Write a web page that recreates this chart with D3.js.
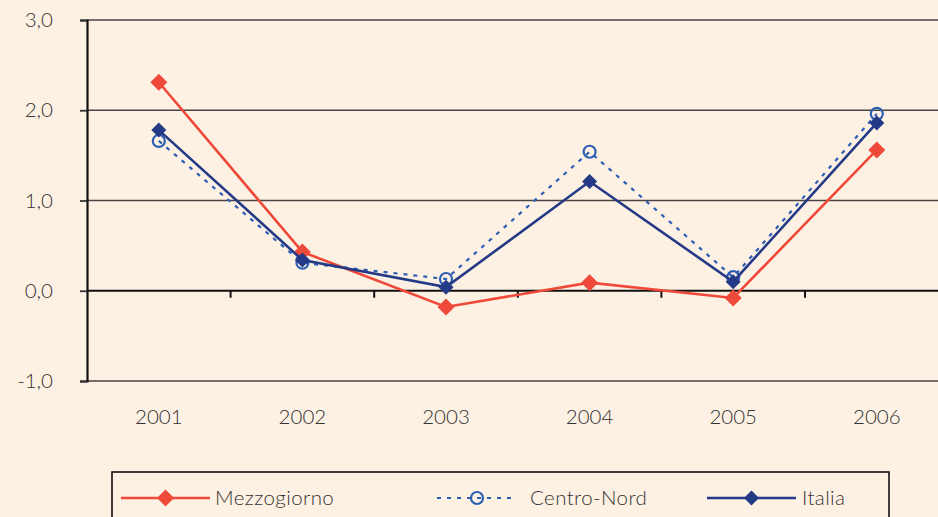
<!DOCTYPE html>
<html>
<head>
<meta charset="utf-8">
<script src="https://cdn.jsdelivr.net/npm/d3@7"></script>
<style>
  html, body { margin: 0; padding: 0; background: #fdf1e4; overflow: hidden; }
  svg text { font-family: Lato, "Open Sans", sans-serif; font-weight: 300; fill: #333; }
</style>
</head>
<body>
<div id="chart"></div>
<script>
const years = ["2001", "2002", "2003", "2004", "2005", "2006"];
const mezzogiorno = [2.31, 0.43, -0.18, 0.09, -0.08, 1.56];
const centroNord = [1.66, 0.31, 0.13, 1.54, 0.15, 1.96];
const italia = [1.78, 0.34, 0.04, 1.21, 0.10, 1.86];
const yTicks = [-1, 0, 1, 2, 3];

const series = [
  { name: "Mezzogiorno", values: mezzogiorno, color: "#ef4a39", dash: null, marker: "diamond", size: 8.5 },
  { name: "Centro-Nord", values: centroNord, color: "#2c5eb3", dash: "4,6", marker: "circle", size: 6 },
  { name: "Italia", values: italia, color: "#243a86", dash: null, marker: "diamond", size: 7.5 }
];

const width = 938, height = 517;
const plotLeft = 87, plotTop = 20, plotBottom = 381;
const band = 143.6;

const svg = d3.select("#chart").append("svg")
  .attr("width", width).attr("height", height);

svg.append("rect").attr("width", width).attr("height", height).attr("fill", "#fdf1e4");

const x = d3.scaleBand().domain(years).range([plotLeft, plotLeft + band * years.length]);
const y = d3.scaleLinear().domain([-1, 3]).range([plotBottom, plotTop]);
const cx = (d) => x(d) + x.bandwidth() / 2;

// gridlines
svg.selectAll(".grid")
  .data(yTicks.filter((t) => t !== 0))
  .join("line")
  .attr("class", "grid")
  .attr("x1", plotLeft).attr("x2", width)
  .attr("y1", (d) => y(d)).attr("y2", (d) => y(d))
  .attr("stroke", "#4a4442").attr("stroke-width", 1.6);

// y axis
const yAxis = svg.append("g")
  .attr("transform", `translate(${plotLeft},0)`)
  .call(d3.axisLeft(y).tickValues(yTicks).tickSize(7).tickPadding(27)
    .tickFormat((d) => d.toFixed(1).replace(".", ",")));
yAxis.select(".domain").attr("stroke", "#111").attr("stroke-width", 2.2);
yAxis.selectAll(".tick line").attr("stroke", "#333").attr("stroke-width", 1.8);
yAxis.selectAll(".tick text").attr("font-size", 20.5).attr("fill", "#333")
  .attr("font-family", "Lato, sans-serif");

// zero line with category ticks
svg.append("line")
  .attr("x1", plotLeft).attr("x2", width)
  .attr("y1", y(0)).attr("y2", y(0))
  .attr("stroke", "#111").attr("stroke-width", 2);
svg.selectAll(".cat-tick")
  .data(years.slice(1))
  .join("line")
  .attr("class", "cat-tick")
  .attr("x1", (d) => x(d)).attr("x2", (d) => x(d))
  .attr("y1", y(0)).attr("y2", y(0) + 7)
  .attr("stroke", "#111").attr("stroke-width", 2);

// year labels
svg.selectAll(".year")
  .data(years)
  .join("text")
  .attr("class", "year")
  .attr("x", (d) => cx(d))
  .attr("y", 424)
  .attr("text-anchor", "middle")
  .attr("font-size", 20.5)
  .text((d) => d);

function drawMarker(g, s, px, py) {
  if (s.marker === "diamond") {
    const r = s.size;
    g.append("path")
      .attr("d", `M${px},${py - r}L${px + r},${py}L${px},${py + r}L${px - r},${py}Z`)
      .attr("fill", s.color);
  } else {
    g.append("circle")
      .attr("cx", px).attr("cy", py).attr("r", s.size)
      .attr("fill", "none").attr("stroke", s.color).attr("stroke-width", 2.2);
  }
}

const line = d3.line().x((d) => cx(d.year)).y((d) => y(d.value));

// draw Centro-Nord first, then Mezzogiorno, then Italia on top
[series[1], series[0], series[2]].forEach((s) => {
  const pts = years.map((yr, i) => ({ year: yr, value: s.values[i] }));
  const g = svg.append("g");
  g.append("path")
    .datum(pts)
    .attr("d", line)
    .attr("fill", "none")
    .attr("stroke", s.color)
    .attr("stroke-width", s.dash ? 2.2 : 2.6)
    .attr("stroke-dasharray", s.dash);
  pts.forEach((p) => drawMarker(g, s, cx(p.year), y(p.value)));
});

// legend
svg.append("rect")
  .attr("x", 112).attr("y", 472)
  .attr("width", 777).attr("height", 80)
  .attr("fill", "none").attr("stroke", "#111").attr("stroke-width", 1.6);

const legendPos = [
  { x1: 121, x2: 210, tx: 215 },
  { x1: 437, x2: 517, tx: 530 },
  { x1: 707, x2: 796, tx: 802 }
];
series.forEach((s, i) => {
  const lp = legendPos[i];
  const ly = 498;
  const g = svg.append("g");
  g.append("line")
    .attr("x1", lp.x1).attr("x2", lp.x2)
    .attr("y1", ly).attr("y2", ly)
    .attr("stroke", s.color)
    .attr("stroke-width", s.dash ? 2.2 : 2.6)
    .attr("stroke-dasharray", s.dash);
  drawMarker(g, s, (lp.x1 + lp.x2) / 2, ly);
  g.append("text")
    .attr("x", lp.tx).attr("y", ly + 7)
    .attr("font-size", 20.5)
    .attr("letter-spacing", 0.4)
    .text(s.name);
});
</script>
</body>
</html>
